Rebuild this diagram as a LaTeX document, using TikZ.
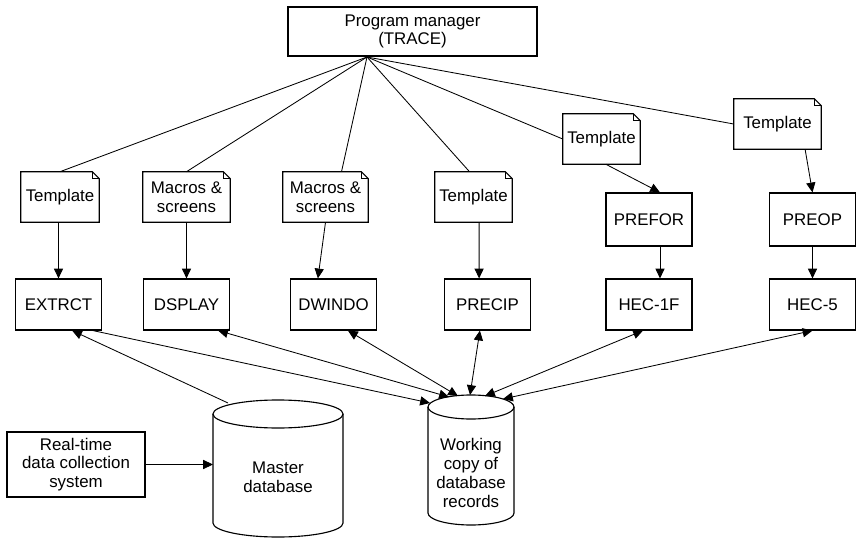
\documentclass[tikz,border=0pt]{standalone}
\usepackage{fontspec}
\setmainfont{Liberation Sans}
\usetikzlibrary{arrows.meta}

\tikzset{
  box/.style={draw,line width=0.8pt,align=center,minimum width=2.15cm,minimum height=1.275cm},
  note/.style={align=center,minimum height=1.25cm,inner sep=0pt},
  link/.style={line width=0.6pt},
  arr/.style={link,-{Triangle[length=7pt,width=6.5pt]}},
  darr/.style={link,{Triangle[length=7pt,width=6.5pt]}-{Triangle[length=7pt,width=6.5pt]}},
}

\begin{document}
\begin{tikzpicture}[x=0.025cm,y=-0.025cm,font=\fontsize{12}{13.4}\selectfont]
  \useasboundingbox (0,0) rectangle (856,538);
  % program manager
  \node[box,minimum width=6.225cm,minimum height=1.225cm] (pm) at (412.5,31.5) {Program manager\\(TRACE)};
  \coordinate (hub) at (367,57);
  % templates and macros
  \node[note,minimum width=1.95cm]  (t1) at (60,197)    {Template};
  \node[note,minimum width=2.175cm] (m1) at (186.5,197) {Macros \&\\screens};
  \node[note,minimum width=2.125cm] (m2) at (325.5,197) {Macros \&\\screens};
  \node[note,minimum width=1.925cm] (t4) at (473.5,197) {Template};
  \node[note,minimum width=1.925cm] (t5) at (601.5,139) {Template};
  \node[note,minimum width=2.175cm] (t6) at (777.5,124) {Template};
  \foreach \n in {t1,m1,m2,t4,t5,t6}{
    \draw[line width=0.8pt] (\n.south west) |- ([xshift=-5pt]\n.north east)
      -- ([yshift=-5pt]\n.north east) -- (\n.south east) -- cycle;
    \draw[line width=0.5pt] ([xshift=-5pt]\n.north east) |- ([yshift=-5pt]\n.north east);
  }
  % programs
  \node[box] (ex) at (58.5,304.5)  {EXTRCT};
  \node[box] (ds) at (186.5,304.5) {DSPLAY};
  \node[box] (dw) at (333.5,304.5) {DWINDO};
  \node[box] (pc) at (487.5,304.5) {PRECIP};
  \node[box] (hf) at (649,304.5)   {HEC-1F};
  \node[box] (h5) at (812.5,304.5) {HEC-5};
  \node[box,minimum height=1.325cm] (pf) at (649,219.5)   {PREFOR};
  \node[box,minimum height=1.325cm] (po) at (812.5,219.5) {PREOP};
  \node[box,minimum width=3.45cm,minimum height=1.625cm] (rt) at (76,464.5)
    {Real-time\\data collection\\system};
  % databases
  \draw[line width=0.8pt] (213,414) -- (213,523)
    arc[start angle=180,end angle=360,x radius=1.625cm,y radius=0.35cm] -- (343,414);
  \draw[line width=0.8pt] (278,414) ellipse[x radius=1.625cm,y radius=0.35cm];
  \node[align=center] (md) at (278,477) {Master\\database};
  \draw[line width=0.8pt] (428,407) -- (428,513)
    arc[start angle=180,end angle=360,x radius=1.075cm,y radius=0.3cm] -- (514,407);
  \draw[line width=0.8pt] (471,407) ellipse[x radius=1.075cm,y radius=0.3cm];
  \node[align=center] (wc) at (471,473) {Working\\copy of\\database\\records};
  \coordinate (mdtop) at (228,403);
  \coordinate (mdside) at (213,464.5);
  \foreach \i/\x/\y in {1/430/403,2/449/397,3/458/396,4/470/395,5/485/396,6/503/399}
    \coordinate (wc\i) at (\x,\y);
  % links from the manager
  \draw[link] (hub) -- (t1.north);
  \draw[link] (hub) -- (m1.north);
  \draw[link] (hub) -- ([xshift=0.4cm]m2.north);
  \draw[link] (hub) -- ([xshift=-0.1cm]t4.north);
  \draw[link] (hub) -- (t5.west);
  \draw[link] (hub) -- (t6.west);
  % inputs to programs
  \draw[arr] (t1.south -| ex.north) -- (ex.north);
  \draw[arr] (m1.south) -- (ds.north);
  \draw[arr] (m2.south) -- ([xshift=-0.39cm]dw.north);
  \draw[arr] ([xshift=0.14cm]t4.south) -- ([xshift=-0.21cm]pc.north);
  \draw[arr] ([xshift=0.11cm]t5.south) -- ([xshift=0.275cm]pf.north);
  \draw[arr] ([xshift=0.69cm]t6.south) -- (po.north);
  \draw[arr] ([xshift=0.275cm]pf.south) -- ([xshift=0.275cm]hf.north);
  \draw[arr] (po.south) -- (h5.north);
  % data flows
  \draw[arr] (rt.east) -- (mdside);
  \draw[arr] (mdtop) -- ([xshift=0.34cm]ex.south);
  \draw[arr] ([xshift=0.86cm]ex.south) -- (wc1);
  \draw[darr] ([xshift=0.79cm]ds.south) -- (wc2);
  \draw[darr] ([xshift=0.36cm]dw.south) -- (wc3);
  \draw[darr] ([xshift=-0.19cm]pc.south) -- (wc4);
  \draw[darr] ([xshift=-0.15cm]hf.south) -- (wc5);
  \draw[darr] (h5.south) -- (wc6);
\end{tikzpicture}
\end{document}
